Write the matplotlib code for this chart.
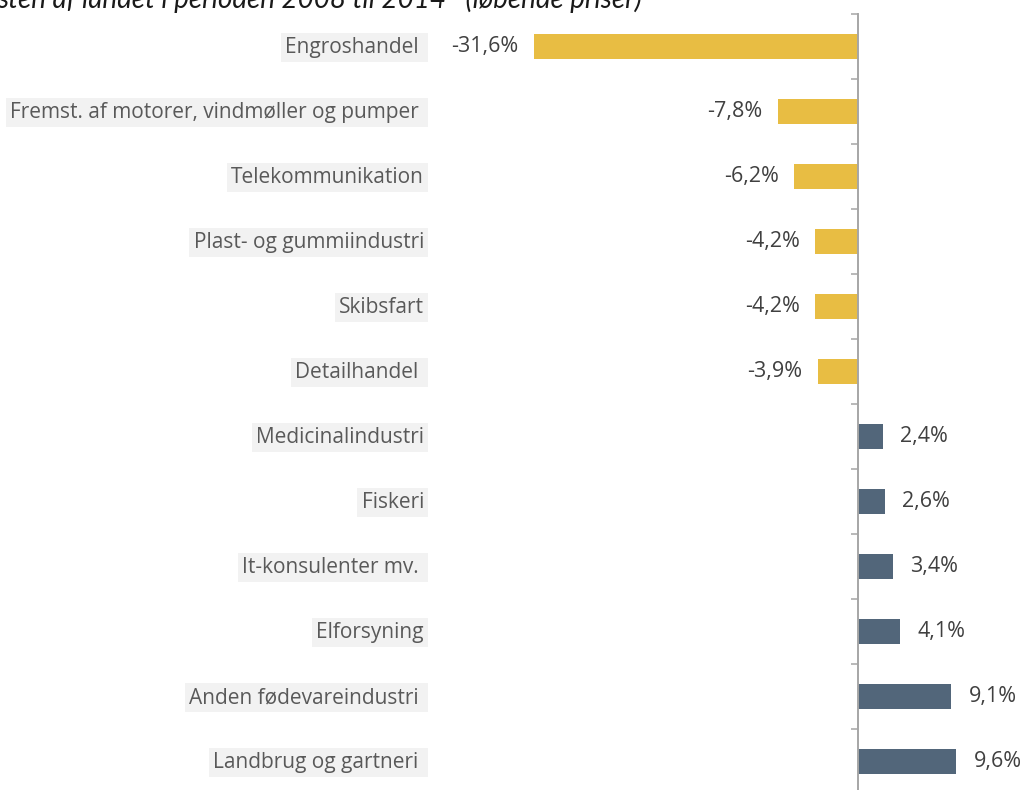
import matplotlib
matplotlib.use('Agg')
import matplotlib.pyplot as plt
import matplotlib.transforms as mtransforms

# data, top row first
categories = ['Engroshandel ', 'Fremst. af motorer, vindmøller og pumper ', 'Telekommunikation',
              'Plast- og gummiindustri', 'Skibsfart', 'Detailhandel ', 'Medicinalindustri',
              'Fiskeri', 'It-konsulenter mv. ', 'Elforsyning', 'Anden fødevareindustri ',
              'Landbrug og gartneri ']
values = [-31.6, -7.8, -6.2, -4.2, -4.2, -3.9, 2.4, 2.6, 3.4, 4.1, 9.1, 9.6]
value_labels = ['-31,6%', '-7,8%', '-6,2%', '-4,2%', '-4,2%', '-3,9%', '2,4%', '2,6%',
                '3,4%', '4,1%', '9,1%', '9,6%']
title = 'sten af landet i perioden 2008 til 2014   (løbende priser)'

neg_color = '#E8BD43'
pos_color = '#52667A'

plt.rcParams['font.family'] = ['Open Sans', 'DejaVu Sans']

W, H = 1022, 790
fig = plt.figure(figsize=(W / 100, H / 100), dpi=100)
# rows are 65 px apart, first boundary at y=14 px from top
top = 14
bottom = top + 65 * len(categories)
ax = fig.add_axes([0, 1 - bottom / H, 1, (bottom - top) / H])

zero_px = 858
px_per_unit = 10.25
ax.set_xlim(-zero_px / px_per_unit, (W - zero_px) / px_per_unit)
ax.set_ylim(len(categories) - 0.5, -0.5)

ypos = list(range(len(categories)))
colors = [neg_color if v < 0 else pos_color for v in values]
ax.barh(ypos, values, height=0.37, color=colors, zorder=2)

for s in ['top', 'right', 'bottom']:
    ax.spines[s].set_visible(False)
ax.spines['left'].set_position(('data', 0))
ax.spines['left'].set_color('#A6A6A6')
ax.spines['left'].set_linewidth(1.4)
ax.spines['left'].set_zorder(3)
ax.set_xticks([])
ax.set_yticks([i - 0.5 for i in range(len(categories) + 1)])
ax.set_yticklabels([])
ax.tick_params(axis='y', direction='out', length=5, width=1.1, color='#A6A6A6')

trans = mtransforms.blended_transform_factory(ax.transAxes, ax.transData)
for i, cat in enumerate(categories):
    ax.text(424 / W, i + 0.02, cat, transform=trans, ha='right', va='center', fontsize=15,
            color='#595959',
            bbox=dict(boxstyle='square,pad=0.2', facecolor='#F2F2F2', edgecolor='none'))

for i, (v, lab) in enumerate(zip(values, value_labels)):
    off = -11 if v < 0 else 12.5
    ax.annotate(lab, (v, i), xytext=(off, 0), textcoords='offset points',
                ha='right' if v < 0 else 'left', va='center', fontsize=15.5, color='#404040')

fig.text(-3 / W, 1 - 8 / H, title, ha='left', va='baseline', fontsize=20, style='italic',
         family=['Lato', 'DejaVu Sans'], color='#1a1a1a')

fig.savefig('out.png', dpi=100)
